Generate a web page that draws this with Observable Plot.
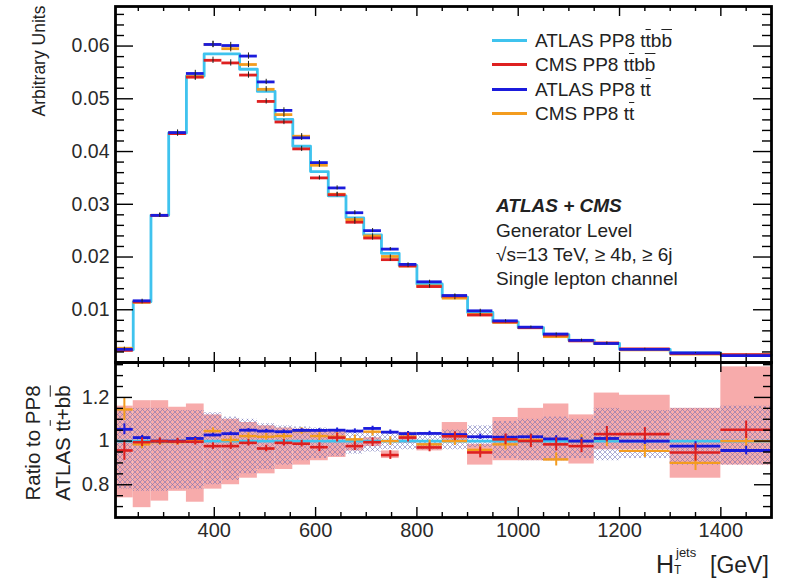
<!DOCTYPE html>
<html><head><meta charset="utf-8">
<script src="https://cdn.jsdelivr.net/npm/d3@7"></script>
<script src="https://cdn.jsdelivr.net/npm/@observablehq/plot@0.6"></script>
<style>
body{margin:0;background:#fff;}
#wrap{position:relative;width:786px;height:587px;font-family:"Liberation Sans",Arial,sans-serif;color:#222;overflow:hidden}
#wrap svg{display:block;overflow:visible}
.abs{position:absolute;white-space:nowrap;line-height:1}
.ob{text-decoration:overline;text-decoration-thickness:1px}
.rot{transform:translate(-50%,-50%) rotate(-90deg)}
</style></head><body><div id="wrap"></div>
<script>
// ---- bin edges (H_T^jets, GeV)
const edges = [205,240,275,310,345,380,415,450,485,520,555,590,625,660,695,730,765,800,850,900,950,1000,1050,1100,1150,1200,1300,1400,1500];

// ---- upper panel: normalised distributions
const atlasTtbb = [0.0024,0.0115,0.0279,0.0435,0.0543,0.0585,0.0585,0.0556,0.0514,0.0461,0.0410,0.0362,0.0316,0.0274,0.0242,0.0207,0.0184,0.0149,0.0124,0.0095,0.0077,0.0066,0.0053,0.0042,0.0036,0.0025,0.0018,0.0014];
const cmsTtbb   = [0.0023,0.0115,0.0279,0.0434,0.0541,0.0573,0.0568,0.0545,0.0495,0.0456,0.0405,0.0350,0.0318,0.0266,0.0236,0.0195,0.0183,0.0144,0.0126,0.0090,0.0077,0.0066,0.0052,0.0041,0.0037,0.0026,0.0017,0.0015];
const atlasTt   = [0.0025,0.0117,0.0279,0.0436,0.0548,0.0603,0.0601,0.0581,0.0532,0.0478,0.0426,0.0379,0.0331,0.0284,0.0250,0.0215,0.0186,0.0153,0.0127,0.0098,0.0079,0.0067,0.0054,0.0042,0.0036,0.0025,0.0018,0.0013];
const cmsTt     = [0.0027,0.0114,0.0279,0.0435,0.0542,0.0603,0.0595,0.0565,0.0518,0.0470,0.0429,0.0374,0.0319,0.0271,0.0240,0.0201,0.0183,0.0145,0.0122,0.0091,0.0076,0.0066,0.0049,0.0042,0.0036,0.0024,0.0016,0.0014];
const statErr   = [0.0002,0.0003,0.0004,0.0005,0.0006,0.0006,0.0006,0.0006,0.0005,0.0005,0.0005,0.0004,0.0004,0.0004,0.0004,0.0003,0.0003,0.0003,0.0003,0.0003,0.0002,0.0002,0.0002,0.0002,0.0002,0.0001,0.0001,0.0001];

// ---- lower panel: ratio to ATLAS PP8 tt+bb
const refRatio = 1;
const ratioAtlasTt  = [1.054,1.016,1.0,1.0,1.012,1.028,1.034,1.05,1.046,1.043,1.049,1.049,1.05,1.046,1.058,1.041,1.034,1.035,1.03,1.02,1.018,1.02,1.01,1.0,1.012,1.0,0.977,0.957];
const ratioCmsTtbb  = [0.957,0.995,1.0,0.998,0.997,0.977,0.977,0.992,0.966,0.992,0.988,0.972,1.016,0.977,0.995,0.936,1.016,0.971,1.022,0.948,1.008,1.0,0.985,0.977,1.032,1.032,0.948,1.052];
const ratioCmsTt    = [1.145,0.985,0.995,0.995,1.0,1.046,1.005,1.023,1.02,1.023,1.046,1.023,1.02,1.008,1.043,1.0,1.02,0.985,1.0,0.96,0.985,1.005,0.916,1.0,1.01,0.955,0.9,1.0];
const errAtlasTt    = [0.025,0.01,0.008,0.008,0.008,0.008,0.008,0.008,0.008,0.008,0.008,0.008,0.01,0.01,0.01,0.01,0.01,0.01,0.01,0.012,0.012,0.012,0.015,0.015,0.015,0.015,0.02,0.02];
const errCmsTtbb    = [0.045,0.02,0.015,0.015,0.015,0.015,0.015,0.015,0.015,0.015,0.015,0.02,0.02,0.02,0.02,0.02,0.02,0.02,0.02,0.025,0.025,0.03,0.03,0.03,0.035,0.03,0.04,0.04];
const errCmsTt      = [0.05,0.02,0.015,0.015,0.015,0.015,0.015,0.015,0.015,0.015,0.015,0.02,0.02,0.02,0.02,0.02,0.02,0.02,0.02,0.025,0.025,0.03,0.03,0.03,0.035,0.03,0.035,0.035];
const pinkLo  = [0.74,0.695,0.725,0.77,0.72,0.78,0.80,0.83,0.85,0.87,0.89,0.91,0.925,0.955,0.975,0.92,0.99,0.955,1.0,0.89,0.91,0.91,0.91,0.895,0.96,0.96,0.83,0.89];
const pinkHi  = [1.16,1.185,1.185,1.155,1.17,1.12,1.10,1.085,1.07,1.06,1.055,1.05,1.045,1.0,1.015,0.955,1.04,0.99,1.085,0.985,1.108,1.15,1.17,1.12,1.22,1.21,1.15,1.34];
const hatchLo = [0.78,0.77,0.77,0.78,0.78,0.80,0.82,0.85,0.87,0.89,0.91,0.92,0.93,0.94,0.95,0.96,0.96,0.96,0.96,0.97,0.92,0.91,0.91,0.92,0.91,0.92,0.89,0.89];
const hatchHi = [1.14,1.15,1.15,1.14,1.14,1.13,1.11,1.10,1.08,1.07,1.065,1.06,1.05,1.05,1.045,1.04,1.04,1.04,1.05,1.07,1.09,1.10,1.11,1.10,1.15,1.14,1.15,1.16];

// ---- ticks
const xMajor = [400,600,800,1000,1200,1400];
const xMinor = [250,300,350,450,500,550,650,700,750,850,900,950,1050,1100,1150,1250,1300,1350,1450];
const yMajorTop = [0.01,0.02,0.03,0.04,0.05,0.06];
const yMinorTop = [0.002,0.004,0.006,0.008,0.012,0.014,0.016,0.018,0.022,0.024,0.026,0.028,0.032,0.034,0.036,0.038,0.042,0.044,0.046,0.048,0.052,0.054,0.056,0.058,0.062,0.064,0.066];
const yMajorRatio = [0.8,1,1.2];
const yMinorRatio = [0.7,0.75,0.85,0.9,0.95,1.05,1.1,1.15,1.25,1.3,1.35];

const CYAN="#3fc3ee", RED="#de2020", BLUE="#1b1bdc", ORANGE="#f39c1f", PINK="#f7abab";
const FONT='"Liberation Sans", Arial, sans-serif';

const rows = edges.slice(0,-1).map((x1,i)=>({i, x1, x2: edges[i+1], xm:(x1+edges[i+1])/2}));
const step = rows.flatMap(r=>[{x:r.x1,y:atlasTtbb[r.i]},{x:r.x2,y:atlasTtbb[r.i]}]);

const W = 786-115-15, H1 = 356, H2 = 155;
const tickStyle = {stroke:"#000", strokeWidth:1.4};

function bars(vals, color){
  return [
    Plot.ruleY(rows,{x1:"x1",x2:"x2",y:d=>vals[d.i],stroke:color,strokeWidth:2.8}),
    Plot.ruleX(rows,{x:"xm",y1:d=>vals[d.i]-statErr[d.i],y2:d=>vals[d.i]+statErr[d.i],stroke:"#222",strokeWidth:1})
  ];
}
function crosses(vals, errs, color, sw){
  return [
    Plot.ruleY(rows,{x1:"x1",x2:"x2",y:d=>vals[d.i],stroke:color,strokeWidth:sw}),
    Plot.ruleX(rows,{x:"xm",y1:d=>vals[d.i]-errs[d.i],y2:d=>vals[d.i]+errs[d.i],stroke:color,strokeWidth:2})
  ];
}

const topPlot = Plot.plot({
  width:786, height:362, marginLeft:115, marginRight:15, marginTop:6, marginBottom:0,
  style:{background:"transparent", overflow:"visible", fontFamily:FONT, color:"#2a2a2a"},
  x:{domain:[205,1500], axis:null},
  y:{domain:[0,0.0675], axis:null},
  marks:[
    Plot.line(step,{x:"x",y:"y",stroke:CYAN,strokeWidth:2.8}),
    ...bars(cmsTt, ORANGE),
    ...bars(cmsTtbb, RED),
    ...bars(atlasTt, BLUE),
    Plot.tickX(xMinor,{...tickStyle, insetTop:H1-5}),
    Plot.tickX(xMajor,{...tickStyle, insetTop:H1-10}),
    Plot.tickX(xMinor,{...tickStyle, insetBottom:H1-5}),
    Plot.tickX(xMajor,{...tickStyle, insetBottom:H1-10}),
    Plot.tickY(yMinorTop,{...tickStyle, insetRight:W-9}),
    Plot.tickY(yMajorTop,{...tickStyle, insetRight:W-18}),
    Plot.tickY(yMinorTop,{...tickStyle, insetLeft:W-9}),
    Plot.tickY(yMajorTop,{...tickStyle, insetLeft:W-18}),
    Plot.axisY(yMajorTop,{anchor:"left", tickSize:0, tickPadding:6, fontSize:19.5, tickFormat:d=>d.toFixed(2), label:null}),
    Plot.frame({stroke:"#000", strokeWidth:2.8})
  ]
});

const botPlot = Plot.plot({
  width:786, height:225, marginLeft:115, marginRight:15, marginTop:0, marginBottom:70,
  style:{background:"transparent", overflow:"visible", fontFamily:FONT, color:"#2a2a2a"},
  x:{domain:[205,1500], axis:null},
  y:{domain:[0.65,1.36], axis:null},
  marks:[
    Plot.rect(rows,{x1:"x1",x2:"x2",y1:d=>pinkLo[d.i],y2:d=>pinkHi[d.i],fill:PINK}),
    Plot.rect(rows,{x1:"x1",x2:"x2",y1:d=>hatchLo[d.i],y2:d=>hatchHi[d.i],fill:"url(#xh)"}),
    Plot.ruleY([refRatio],{stroke:CYAN,strokeWidth:2.8}),
    ...crosses(ratioCmsTt, errCmsTt, ORANGE, 2.4),
    ...crosses(ratioAtlasTt, errAtlasTt, BLUE, 2.8),
    ...crosses(ratioCmsTtbb, errCmsTtbb, RED, 2.6),
    Plot.tickX(xMinor,{...tickStyle, insetTop:H2-5}),
    Plot.tickX(xMajor,{...tickStyle, insetTop:H2-10}),
    Plot.tickX(xMinor,{...tickStyle, insetBottom:H2-5}),
    Plot.tickX(xMajor,{...tickStyle, insetBottom:H2-10}),
    Plot.tickY(yMinorRatio,{...tickStyle, insetRight:W-8}),
    Plot.tickY(yMajorRatio,{...tickStyle, insetRight:W-17}),
    Plot.tickY(yMinorRatio,{...tickStyle, insetLeft:W-8}),
    Plot.tickY(yMajorRatio,{...tickStyle, insetLeft:W-17}),
    Plot.axisY(yMajorRatio,{anchor:"left", tickSize:0, tickPadding:6, fontSize:20, tickFormat:d=>d===1?"1":d.toFixed(1), label:null}),
    Plot.axisX(xMajor,{anchor:"bottom", tickSize:0, tickPadding:5, fontSize:20, tickFormat:d=>String(d), label:null}),
    Plot.frame({stroke:"#000", strokeWidth:2.8})
  ]
});
d3.select(botPlot).insert("defs",":first-child").html(
  '<pattern id="xh" width="5" height="5" patternUnits="userSpaceOnUse">'+
  '<path d="M0,0L5,5M5,0L0,5" stroke="#6a6cb4" stroke-width="0.9" stroke-opacity="0.6"/></pattern>');

const wrap = document.getElementById("wrap");
wrap.appendChild(topPlot);
wrap.appendChild(botPlot);

function add(html, css, cls){
  const el = document.createElement("div");
  el.className = "abs " + (cls||"");
  el.innerHTML = html;
  Object.assign(el.style, css);
  wrap.appendChild(el);
  return el;
}
const ttbb = 't<span class="ob">t</span>b<span class="ob">b</span>';
const tt = 't<span class="ob">t</span>';

// legend
const legendNames = ["ATLAS PP8 "+ttbb, "CMS PP8 "+ttbb, "ATLAS PP8 "+tt, "CMS PP8 "+tt];
const legendColors = [CYAN, RED, BLUE, ORANGE];
const legendY = [40, 64, 89, 113];
legendNames.forEach((n,k)=>{
  add("", {left:"492px", top:(legendY[k]-1.5)+"px", width:"35px", height:"3px", background:legendColors[k]});
  add(n, {left:"535px", top:(legendY[k]-9.3)+"px", fontSize:"19px"});
});

// annotation
const notes = ["Generator Level", "\u221As=13 TeV, \u2265 4b, \u2265 6j", "Single lepton channel"];
add("ATLAS + CMS", {left:"496px", top:(205-9.3)+"px", fontSize:"19px", fontWeight:"bold", fontStyle:"italic"});
[230,254,278].forEach((y,k)=>add(notes[k], {left:"496px", top:(y-9.3)+"px", fontSize:"19px"}));

// axis titles
add("Arbitrary Units", {left:"40px", top:"61px", fontSize:"17.5px"}, "rot");
add("Ratio to PP8", {left:"33px", top:"443px", fontSize:"20.5px"}, "rot");
add("ATLAS "+tt+"+b<span class='ob'>b</span>", {left:"63px", top:"443px", fontSize:"20.5px"}, "rot");
add("H", {left:"656px", top:"552px", fontSize:"25px"});
add("jets", {left:"676px", top:"546px", fontSize:"13px"});
add("T", {left:"674px", top:"564px", fontSize:"12px"});
add("[GeV]", {left:"710px", top:"554px", fontSize:"23px"});
</script></body></html>
